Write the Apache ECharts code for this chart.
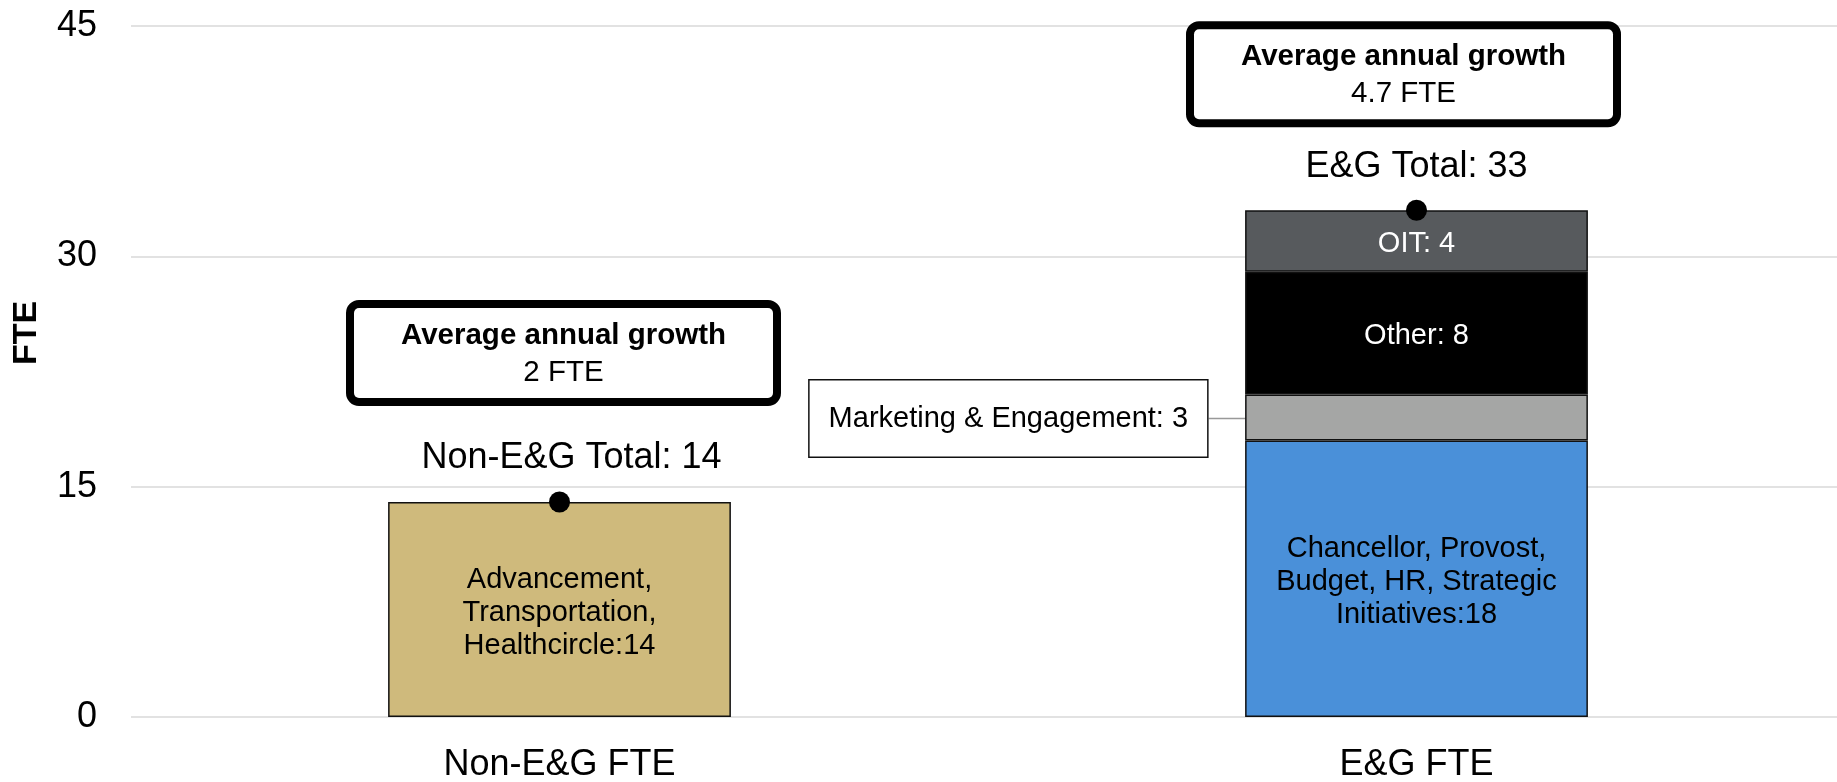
<!DOCTYPE html>
<html>
<head>
<meta charset="utf-8">
<script src="https://cdn.jsdelivr.net/npm/echarts@6/dist/echarts.min.js"></script>
<style>
html, body { margin: 0; padding: 0; background: #fff; }
#chart { width: 1837px; height: 782px; }
</style>
</head>
<body>
<div id="chart"></div>
<script>
const CATEGORIES = ['Non-E&G FTE', 'E&G FTE'];
const Y_TICKS = [0, 15, 30, 45];
const NON_EG_VALUES = [14];
const NON_EG_LABELS = ['Advancement,\nTransportation,\nHealthcircle:14'];
const EG_VALUES = [18, 3, 8, 4];
const EG_LABELS = [
    'Chancellor, Provost,\nBudget, HR, Strategic\nInitiatives:18',
    'Marketing & Engagement: 3',
    'Other: 8',
    'OIT: 4'
];
const TOTALS = [14, 33];
const TOTAL_NAMES = ['Non-E&G Total', 'E&G Total'];
const GROWTH = [2, 4.7];

const FONT = '"Liberation Sans", Arial, Helvetica, sans-serif';
const NON_EG_COLOR = '#cfba7c';
const EG_COLORS = ['#4a90d9', '#a5a6a5', '#000000', '#575a5d'];
const EG_TEXT = ['#000', '#000', '#fff', '#fff'];

const chart = echarts.init(document.getElementById('chart'));

// 柱子通用样式
const barBase = {
    type: 'bar',
    stack: 'fte',
    barWidth: '40%',
    itemStyle: { borderColor: '#111', borderWidth: 1.5 },
    emphasis: { disabled: true }
};

const series = [];

series.push(Object.assign({}, barBase, {
    name: 'Non-E&G',
    data: [NON_EG_VALUES[0], '-'],
    itemStyle: Object.assign({}, barBase.itemStyle, { color: NON_EG_COLOR }),
    label: {
        show: true,
        position: 'inside',
        offset: [0, 3],
        formatter: NON_EG_LABELS[0],
        color: '#000',
        fontFamily: FONT,
        fontSize: 29,
        lineHeight: 33
    }
}));

EG_VALUES.forEach((v, i) => {
    const s = Object.assign({}, barBase, {
        name: 'E&G ' + i,
        data: ['-', v],
        itemStyle: Object.assign({}, barBase.itemStyle, { color: EG_COLORS[i] }),
        label: {
            show: true,
            position: 'inside',
            offset: [0, 3],
            formatter: EG_LABELS[i],
            color: EG_TEXT[i],
            fontFamily: FONT,
            fontSize: 29,
            lineHeight: 33
        }
    });
    // 小段的标签放到左侧带边框的盒子里
    if (i === 1) {
        s.label = Object.assign(s.label, {
            position: 'left',
            offset: [0, 0],
            distance: 0,
            backgroundColor: '#fff',
            borderColor: '#111',
            borderWidth: 1.5,
            padding: [25, 19, 21, 19],
            lineHeight: 30
        });
        s.labelLayout = { dx: -38, dy: 1 };
        s.labelLine = { show: true, lineStyle: { color: '#999', width: 1.5 } };
    }
    series.push(s);
});

// 总数圆点 + 年均增长框
series.push({
    type: 'scatter',
    name: 'Total',
    data: TOTALS,
    symbolSize: 21,
    z: 5,
    itemStyle: { color: '#000', opacity: 1 },
    emphasis: { disabled: true },
    label: {
        show: true,
        position: 'top',
        distance: 15,
        color: '#000',
        fontFamily: FONT,
        fontSize: 36,
        formatter: p => TOTAL_NAMES[p.dataIndex] + ': ' + p.value
    },
    labelLayout: p => (p.dataIndex === 0 ? { dx: 12 } : {}),
    markPoint: {
        symbol: 'circle',
        symbolSize: 0,
        silent: true,
        data: GROWTH.map((g, i) => ({
            coord: [i, TOTALS[i]],
            value: g,
            label: { offset: i === 0 ? [4, -149] : [-13, -136] }
        })),
        label: {
            show: true,
            position: 'inside',
            backgroundColor: '#fff',
            borderColor: '#000',
            borderWidth: 8,
            borderRadius: 5,
            padding: [9, 0, 7, 0],
            width: 419,
            align: 'center',
            formatter: p => '{t|Average annual growth}\n{v|' + p.value + ' FTE}',
            rich: {
                t: { fontFamily: FONT, fontSize: 29.5, fontWeight: 'bold', lineHeight: 37, color: '#000', align: 'center' },
                v: { fontFamily: FONT, fontSize: 29.5, lineHeight: 37, color: '#000', align: 'center' }
            }
        }
    }
});

chart.setOption({
    animation: false,
    backgroundColor: '#fff',
    grid: { left: 131, right: -8, top: 26, bottom: 65, outerBoundsMode: 'none' },
    xAxis: {
        type: 'category',
        data: CATEGORIES,
        axisLine: { show: false },
        axisTick: { show: false },
        axisLabel: { color: '#000', fontFamily: FONT, fontSize: 36, margin: 30 }
    },
    yAxis: {
        type: 'value',
        min: Y_TICKS[0],
        max: Y_TICKS[Y_TICKS.length - 1],
        interval: Y_TICKS[1] - Y_TICKS[0],
        axisLine: { show: false },
        axisTick: { show: false },
        axisLabel: { color: '#000', fontFamily: FONT, fontSize: 36, margin: 34, padding: [5, 0, 0, 0] },
        splitLine: { lineStyle: { color: '#d9d9d9', width: 1.5 } }
    },
    graphic: [{
        type: 'text',
        x: 27,
        y: 333,
        rotation: Math.PI / 2,
        style: {
            text: 'FTE',
            fill: '#000',
            font: 'bold 34px ' + FONT,
            align: 'center',
            verticalAlign: 'middle'
        }
    }],
    series: series
});
</script>
</body>
</html>
